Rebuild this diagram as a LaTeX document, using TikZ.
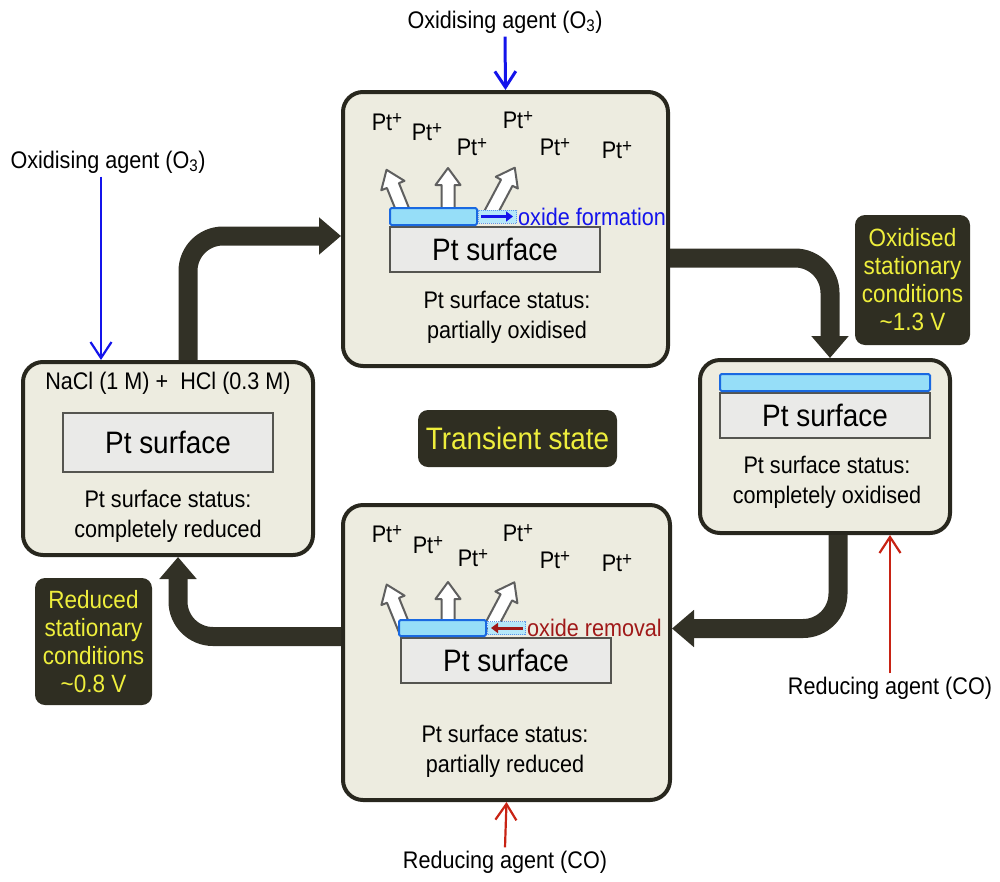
\documentclass[tikz,border=0pt]{standalone}
\usepackage{fontspec}
\setmainfont{Liberation Sans}[FakeStretch=0.9]
\usetikzlibrary{arrows.meta,calc}
\definecolor{boxfill}{RGB}{237,236,224}
\definecolor{boxline}{RGB}{40,39,30}
\definecolor{surffill}{RGB}{234,234,232}
\definecolor{surfline}{RGB}{85,85,80}
\definecolor{oxfill}{RGB}{150,222,248}
\definecolor{oxline}{RGB}{25,105,225}
\definecolor{tagfill}{RGB}{47,46,34}
\definecolor{tagtext}{RGB}{238,238,60}
\definecolor{flowcol}{RGB}{50,49,38}
\definecolor{oxblue}{RGB}{20,20,235}
\definecolor{redagent}{RGB}{200,35,20}
\definecolor{removal}{RGB}{160,25,25}
\definecolor{emitline}{RGB}{95,95,95}
\newcommand{\ion}{Pt\raisebox{0.5ex}{\fontsize{19}{19}\selectfont+}}
\begin{document}
\begin{tikzpicture}[x=1pt, y=-1pt, font=\fontsize{24}{30}\selectfont,
  cell/.style={draw=boxline, line width=4pt, fill=boxfill, rounded corners=20pt},
  ptsurf/.style={draw=surfline, line width=2pt, fill=surffill, minimum width=210pt, minimum height=45pt, font=\fontsize{31}{36}\selectfont},
  oxlayer/.style={draw=oxline, line width=2pt, fill=oxfill, rounded corners=1.5pt, minimum height=17pt},
  oxgrow/.style={draw=oxline!70, densely dotted, line width=1pt, fill=oxfill!70, minimum width=38pt, minimum height=13pt},
  tag/.style={fill=tagfill, text=tagtext, rounded corners=10pt, align=center, font=\fontsize{25}{28}\selectfont},
  status/.style={align=center},
  flow/.style={line width=19pt, draw=flowcol, rounded corners=35pt, -{Triangle[width=36pt,length=22pt]}},
  feed/.style={line width=2.2pt, -{Straight Barb[length=16pt,width=21pt]}},
  emitpath/.style={draw=emitline, fill=white, line width=2pt, line join=round},
  emit/.pic={\path[emitpath] (-6.5,0) -- (-6.5,{-#1+17}) -- (-12.5,{-#1+17}) -- (0,{-#1}) -- (12.5,{-#1+17}) -- (6.5,{-#1+17}) -- (6.5,0) -- cycle;}
]
\useasboundingbox (0,0) rectangle (1000,881);

% the four stages
\node[cell, minimum width=290pt, minimum height=193pt] (leftbox) at (168,458.5) {};
\node[cell, minimum width=325pt, minimum height=274pt] (topbox) at (505.5,229) {};
\node[cell, minimum width=250pt, minimum height=173pt] (rightbox) at (825,446.5) {};
\node[cell, minimum width=327pt, minimum height=295pt] (botbox) at (506.5,652.5) {};

% left: reduced
\node (elec) at (168,383) {NaCl (1 M) +\ \ HCl (0.3 M)};
\node[ptsurf, minimum height=59pt] (ptL) at (168,442.5) {Pt surface};
\node[status] (stL) at (168,516) {Pt surface status:\\completely reduced};

% top: oxidation
\foreach \x/\y [count=\i] in {387/122,427/132,472/147,518/120,555/147,617/150}
  \node (ionA\i) at (\x,\y) {\ion};
\pic[rotate=22] at (406,218) {emit=52};
\pic at (448,218) {emit=50};
\pic[rotate=-28] at (488,218) {emit=57};
\node[ptsurf] (ptA) at (495,249.5) {Pt surface};
\node[oxlayer, anchor=south west, minimum width=87pt] (oxA) at (ptA.north west) {};
\node[oxgrow, anchor=west] (grA) at (oxA.east) {};
\draw[oxblue, line width=3pt, -{Triangle[length=7pt,width=10pt]}] ($(grA.west)+(3,0)$) -- ($(grA.east)+(-4,0)$);
\node[anchor=west, inner sep=1pt, text=oxblue] (fmA) at (grA.east) {oxide formation};
\node[status] (stA) at (507,317) {Pt surface status:\\partially oxidised};

% right: oxidised
\node[ptsurf] (ptR) at (825,415.5) {Pt surface};
\node[oxlayer, anchor=south, minimum width=210pt] (oxR) at (ptR.north) {};
\node[status] (stR) at (827,482) {Pt surface status:\\completely oxidised};

% bottom: reduction
\foreach \x/\y [count=\i] in {387/534,428/545,473/558,518/533,555/560,617/563}
  \node (ionB\i) at (\x,\y) {\ion};
\pic[rotate=22] at (405,630) {emit=49};
\pic at (448,630) {emit=48};
\pic[rotate=-28] at (489,630) {emit=54};
\node[ptsurf] (ptB) at (506,660.5) {Pt surface};
\node[oxlayer, anchor=south west, minimum width=87pt, minimum height=16pt] (oxB) at ($(ptB.north west)+(-2,0)$) {};
\node[oxgrow, anchor=west] (grB) at (oxB.east) {};
\draw[removal, line width=3pt, -{Triangle[length=7pt,width=10pt]}] ($(grB.east)+(-3,0)$) -- ($(grB.west)+(4,0)$);
\node[anchor=west, inner sep=1pt, text=removal] (rmB) at (grB.east) {oxide removal};
\node[status] (stB) at (505,751) {Pt surface status:\\partially reduced};

% labels
\node[tag, minimum width=115pt, minimum height=130pt] (oxtag) at (912.5,280) {Oxidised\\stationary\\conditions\\\textasciitilde1.3 V};
\node[tag, minimum width=117pt, minimum height=127pt] (redtag) at (93.5,641.5) {Reduced\\stationary\\conditions\\\textasciitilde0.8 V};
\node[tag, minimum width=199pt, minimum height=57pt, font=\fontsize{31}{36}\selectfont] (transient) at (517.5,438.5) {Transient state};

% agents
\node (oxT) at (505,22) {Oxidising agent (O\textsubscript{3})};
\node (oxL) at (108,162) {Oxidising agent (O\textsubscript{3})};
\node (coR) at (890,688) {Reducing agent (CO)};
\node (coB) at (505,862) {Reducing agent (CO)};
\coordinate (oxLfoot) at ($(oxL.south)+(-7,0)$);
\draw[feed, oxblue, line width=3pt] (oxT.south) -- (topbox.north);
\draw[feed, oxblue] (oxLfoot) -- (oxLfoot |- leftbox.north);
\draw[feed, redagent] (coR.north) -- (coR.north |- rightbox.south);
\draw[feed, redagent] (coB.north) -- (botbox.south);

% cycle
\draw[flow] ($(leftbox.north)+(20,0)$) |- ($(topbox.west)+(0,7)$);
\draw[flow] ($(topbox.east)+(0,29)$) -| ($(rightbox.north)+(5,0)$);
\draw[flow] ($(rightbox.south)+(13,0)$) |- ($(botbox.east)+(0,-24)$);
\draw[flow] ($(botbox.west)+(0,-16)$) -| ($(leftbox.south)+(10,0)$);
\end{tikzpicture}
\end{document}
